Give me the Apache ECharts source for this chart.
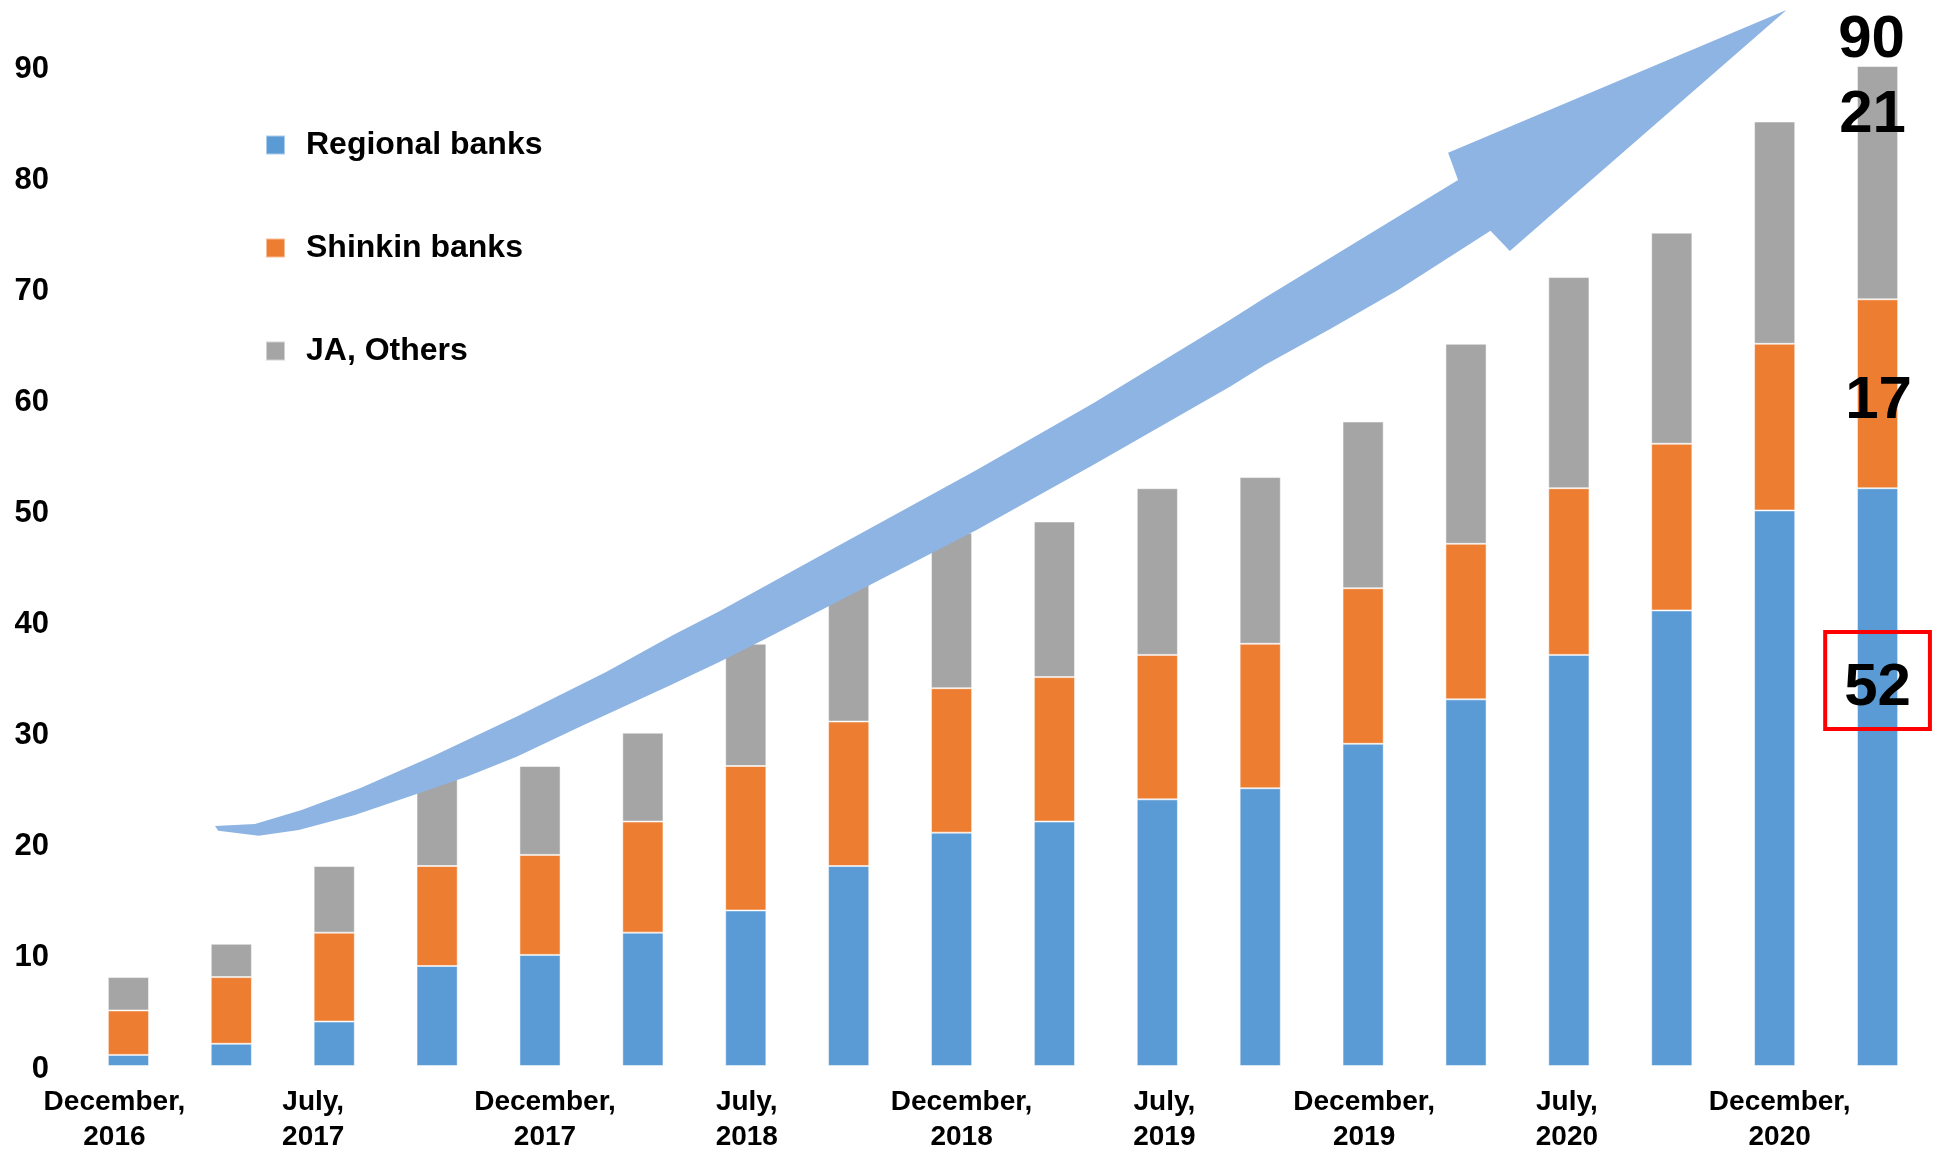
<!DOCTYPE html>
<html>
<head>
<meta charset="utf-8">
<title>Regional financial institutions</title>
<script src="https://cdn.jsdelivr.net/npm/echarts@6/dist/echarts.min.js"></script>
<style>
  html, body { margin: 0; padding: 0; background: #fff; }
  #chart { width: 1941px; height: 1149px; }
</style>
</head>
<body>
<div id="chart"></div>
<script>
// Period tick labels (every other period is unlabeled)
const CATEGORIES = [
  'December,\n2016', '', 'July,\n2017', '', 'December,\n2017', '',
  'July,\n2018', '', 'December,\n2018', '', 'July,\n2019', '',
  'December,\n2019', '', 'July,\n2020', '', 'December,\n2020', ''
];
// Horizontal nudge (px) applied to each tick label
const LABEL_NUDGE = [-14, 0, -21, 0, 5, 0, 1, 0, 10, 0, 7, 0, 1, 0, -2, 0, 5, 0];

const SERIES_NAMES = ['Regional banks', 'Shinkin banks', 'JA, Others'];

const REGIONAL = [1, 2, 4, 9, 10, 12, 14, 18, 21, 22, 24, 25, 29, 33, 37, 41, 50, 52];
const SHINKIN  = [4, 6, 8, 9, 9, 10, 13, 13, 13, 13, 13, 13, 14, 14, 15, 15, 15, 17];
const JA_OTHER = [3, 3, 6, 8, 8, 8, 11, 13, 14, 14, 15, 15, 15, 18, 19, 19, 20, 21];

const Y_TICKS = { min: 0, max: 90, interval: 10 };

// Growth arrow outline, in (category index, value) space
const ARROW_PATH = [
  [0.841, 21.60], [1.229, 21.78], [1.683, 23.04], [2.250, 24.99], [2.962, 27.90],
  [3.805, 31.59], [4.647, 35.49], [5.294, 38.79], [5.748, 40.95], [6.882, 46.74],
  [8.243, 53.64], [9.377, 59.64], [10.705, 67.14], [11.045, 69.15], [12.923, 79.74],
  [12.826, 82.20], [16.115, 95.04], [13.426, 73.35], [13.238, 75.18],
  [12.340, 69.84], [11.693, 66.39], [11.045, 63.09], [10.705, 61.14], [9.376, 54.09],
  [8.243, 48.24], [7.206, 43.29], [6.169, 38.34], [5.748, 36.39], [5.235, 34.14],
  [4.388, 30.54], [3.773, 27.84], [3.287, 26.04], [2.773, 24.39], [2.201, 22.59],
  [1.655, 21.24], [1.266, 20.73], [0.873, 21.18]
];

const COLORS = ['#5B9BD5', '#ED7D31', '#A5A5A5'];
const FONT = "'Liberation Sans', Arial, Helvetica, sans-serif";
const LAST = REGIONAL.length - 1;
const TOTALS = REGIONAL.map((v, i) => v + SHINKIN[i] + JA_OTHER[i]);

const chart = echarts.init(document.getElementById('chart'), null, { renderer: 'canvas' });

const valueLabel = {
  fontFamily: FONT, fontSize: 60, fontWeight: 'bold', color: '#000', lineHeight: 60
};

function lastOnly(values, labelCfg) {
  return values.map((v, i) => i === LAST ? { value: v, label: Object.assign({ show: true }, labelCfg) } : v);
}

// shift a centered label sideways by padding one side
function nudgePadding(dx) {
  return dx < 0 ? [0, -2 * dx, 0, 0] : [0, 0, 0, 2 * dx];
}

const barBase = {
  type: 'bar',
  stack: 'total',
  barWidth: '40%',
  itemStyle: { borderColor: 'rgba(255,255,255,0.5)', borderWidth: 1 },
  emphasis: { disabled: true }
};

chart.setOption({
  animation: false,
  backgroundColor: '#fff',
  textStyle: { fontFamily: FONT },
  grid: {
    left: 77, right: 12, top: 66, bottom: 83,
    containLabel: false,
    outerBoundsMode: 'none'
  },
  legend: {
    orient: 'vertical',
    left: 265,
    top: 129,
    padding: 0,
    itemWidth: 19,
    itemHeight: 19,
    itemGap: 71,
    icon: 'rect',
    data: SERIES_NAMES,
    textStyle: {
      fontFamily: FONT, fontSize: 32, fontWeight: 'bold', color: '#000',
      lineHeight: 31, padding: [0, 0, 0, 16]
    }
  },
  xAxis: {
    type: 'category',
    data: CATEGORIES.map((c, i) => ({
      value: c,
      textStyle: { padding: nudgePadding(LABEL_NUDGE[i]) }
    })),
    axisLine: { show: false },
    axisTick: { show: false },
    axisLabel: {
      interval: 0,
      margin: 19,
      fontFamily: FONT, fontSize: 28, fontWeight: 'bold', color: '#000', lineHeight: 35
    }
  },
  yAxis: {
    type: 'value',
    min: Y_TICKS.min,
    max: Y_TICKS.max,
    interval: Y_TICKS.interval,
    splitLine: { show: false },
    axisLine: { show: false },
    axisTick: { show: false },
    axisLabel: {
      margin: 28,
      formatter: '{v|{value}}',
      rich: {
        v: {
          fontFamily: FONT, fontSize: 31, fontWeight: 'bold', color: '#000',
          lineHeight: 37, verticalAlign: 'bottom'
        }
      }
    }
  },
  series: [
    Object.assign({}, barBase, {
      name: SERIES_NAMES[0],
      itemStyle: Object.assign({}, barBase.itemStyle, { color: COLORS[0] }),
      data: lastOnly(REGIONAL, Object.assign({}, valueLabel, {
        position: ['50%', '24.9%'],
        align: 'center',
        verticalAlign: 'top',
        borderColor: '#FF0000',
        borderWidth: 4,
        padding: [26, 19, 11, 19],
        formatter: '{c}'
      }))
    }),
    Object.assign({}, barBase, {
      name: SERIES_NAMES[1],
      itemStyle: Object.assign({}, barBase.itemStyle, { color: COLORS[1] }),
      data: lastOnly(SHINKIN, Object.assign({}, valueLabel, {
        position: 'inside',
        offset: [1, 8],
        formatter: '{c}'
      }))
    }),
    Object.assign({}, barBase, {
      name: SERIES_NAMES[2],
      itemStyle: Object.assign({}, barBase.itemStyle, { color: COLORS[2] }),
      data: lastOnly(JA_OTHER, Object.assign({}, valueLabel, {
        position: 'insideTop',
        distance: 19,
        offset: [-5, 0],
        formatter: '{c}'
      }))
    }),
    {
      // total figure above the latest bar
      type: 'scatter',
      name: 'Total',
      symbolSize: 0,
      silent: true,
      itemStyle: { opacity: 1 },
      data: TOTALS.map((v, i) => i === LAST ? v : '-'),
      label: Object.assign({}, valueLabel, {
        show: true,
        position: 'top',
        distance: -4,
        offset: [-6, 0],
        formatter: '{c}'
      })
    }
  ]
});

// Arrow drawn over the bars, mapped through the grid's own scales
function drawArrow() {
  const p0 = chart.convertToPixel({ gridIndex: 0 }, [0, 0]);
  const p1 = chart.convertToPixel({ gridIndex: 0 }, [1, 10]);
  const stepX = p1[0] - p0[0];
  const stepY = (p1[1] - p0[1]) / 10;
  const pts = ARROW_PATH.map(([i, v]) => [p0[0] + i * stepX, p0[1] + v * stepY]);
  chart.setOption({
    graphic: [{
      type: 'polygon',
      z: 100,
      silent: true,
      shape: { points: pts },
      style: { fill: '#8EB4E3' }
    }]
  });
}
drawArrow();
</script>
</body>
</html>
